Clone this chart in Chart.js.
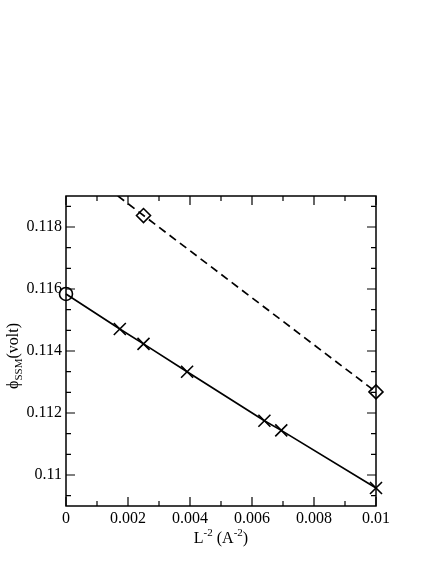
<!DOCTYPE html>
<html>
<head>
<meta charset="utf-8">
<script src="https://cdn.jsdelivr.net/npm/chart.js@4"></script>
<style>
  html, body { margin: 0; padding: 0; background: #fff; }
  #wrap { width: 443px; height: 573px; position: relative; }
</style>
</head>
<body>
<div id="wrap"><canvas id="chart"></canvas></div>
<script>
"use strict";

// solid series (circle = extrapolated value at L^-2 = 0)
const solidX = [0, 0.001736, 0.0025, 0.003906, 0.0064, 0.006944, 0.01];
const solidY = [0.11584, 0.11471, 0.11423, 0.11333, 0.11175, 0.11144, 0.10958];

// dashed series: line ends and diamond markers
const dashLineX = [0, 0.01];
const dashLineY = [0.12027, 0.11268];
const diamondX = [0.0025, 0.01];
const diamondY = [0.11837, 0.11268];

// tick labels
const xTicks = [0, 0.002, 0.004, 0.006, 0.008, 0.01];
const yTicks = [0.11, 0.112, 0.114, 0.116, 0.118];

const xMin = 0, xMax = 0.01, xMinor = 0.001;
const yMin = 0.109, yMax = 0.119, yStep = 0.002, yMinorPerMajor = 3;

const FONT = "'Liberation Serif', 'Times New Roman', serif";

function pts(xs, ys) {
  return xs.map((x, i) => ({ x: x, y: ys[i] }));
}

function fmt(v) {
  return String(Number(v.toFixed(6)));
}

function drawParts(ctx, parts, x0, y0) {
  // parts: [text, size, baseline shift]
  let total = 0;
  parts.forEach((p) => {
    ctx.font = p[1] + "px " + FONT;
    total += ctx.measureText(p[0]).width;
  });
  let x = x0 - total / 2;
  parts.forEach((p) => {
    ctx.font = p[1] + "px " + FONT;
    ctx.fillText(p[0], x, y0 + p[2]);
    x += ctx.measureText(p[0]).width;
  });
}

const framePlugin = {
  id: "frame",
  beforeDatasetsDraw(chart) {
    const { ctx, chartArea: a, scales } = chart;
    const xs = scales.x;
    const ys = scales.y;
    ctx.save();
    ctx.strokeStyle = "#000";
    ctx.lineWidth = 1.5;
    ctx.strokeRect(a.left, a.top, a.right - a.left, a.bottom - a.top);

    ctx.beginPath();
    const nx = Math.round((xMax - xMin) / xMinor);
    for (let i = 0; i <= nx; i++) {
      const px = xs.getPixelForValue(xMin + i * xMinor);
      const len = i % 2 === 0 ? 9 : 5;
      ctx.moveTo(px, a.bottom);
      ctx.lineTo(px, a.bottom - len);
      ctx.moveTo(px, a.top);
      ctx.lineTo(px, a.top + len);
    }
    const yMinorStep = yStep / yMinorPerMajor;
    for (let k = -1; k <= 13; k++) {
      const v = yTicks[0] + k * yMinorStep;
      if (v < yMin || v > yMax) continue;
      const py = ys.getPixelForValue(v);
      const len = k % yMinorPerMajor === 0 ? 9 : 5;
      ctx.moveTo(a.left, py);
      ctx.lineTo(a.left + len, py);
      ctx.moveTo(a.right, py);
      ctx.lineTo(a.right - len, py);
    }
    ctx.lineWidth = 1.2;
    ctx.stroke();
    ctx.restore();
  },
  afterDraw(chart) {
    const { ctx, chartArea: a } = chart;
    ctx.save();
    ctx.fillStyle = "#000";
    ctx.textBaseline = "alphabetic";
    ctx.textAlign = "left";
    // x axis title
    drawParts(ctx, [
      ["L", 16, 0], ["-2", 11, -7], [" (A", 16, 0], ["-2", 11, -7], [")", 16, 0],
    ], (a.left + a.right) / 2, 543);
    // y axis title
    ctx.translate(18, 356);
    ctx.rotate(-Math.PI / 2);
    drawParts(ctx, [
      ["\u03d5", 16, 0], ["SSM", 11, 4], ["(volt)", 16, 0],
    ], 0, 0);
    ctx.restore();
  },
};

const ctx = document.getElementById("chart");

new Chart(ctx, {
  type: "scatter",
  data: {
    datasets: [
      {
        label: "dashed",
        data: pts(dashLineX, dashLineY),
        showLine: true,
        borderColor: "#000",
        borderWidth: 1.7,
        borderDash: [8, 5],
        pointRadius: 0,
        fill: false,
      },
      {
        label: "diamonds",
        data: pts(diamondX, diamondY),
        showLine: false,
        pointStyle: "rectRot",
        pointRadius: 7,
        pointBorderWidth: 1.6,
        pointBorderColor: "#000",
        pointBackgroundColor: "transparent",
        clip: false,
      },
      {
        label: "solid",
        data: pts(solidX, solidY),
        showLine: true,
        borderColor: "#000",
        borderWidth: 1.7,
        pointStyle: solidX.map((x, i) => (i === 0 ? "circle" : "crossRot")),
        pointRadius: solidX.map((x, i) => (i === 0 ? 6.5 : 8.5)),
        pointBorderWidth: 1.6,
        pointBorderColor: "#000",
        pointBackgroundColor: "transparent",
        clip: false,
      },
    ],
  },
  options: {
    responsive: true,
    maintainAspectRatio: false,
    animation: false,
    events: [],
    layout: { padding: { left: 0, top: 196, right: 67, bottom: 0 } },
    plugins: {
      legend: { display: false },
      tooltip: { enabled: false },
    },
    scales: {
      x: {
        type: "linear",
        min: xMin,
        max: xMax,
        grid: { display: false, drawTicks: false },
        border: { display: false },
        afterFit: (s) => { s.height = 67; },
        afterBuildTicks: (s) => { s.ticks = xTicks.map((v) => ({ value: v })); },
        ticks: {
          padding: 3,
          color: "#000",
          font: { family: FONT, size: 16 },
          maxRotation: 0,
          autoSkip: false,
          callback: (v) => fmt(v),
        },
      },
      y: {
        type: "linear",
        min: yMin,
        max: yMax,
        grid: { display: false, drawTicks: false },
        border: { display: false },
        afterFit: (s) => { s.width = 66; },
        afterBuildTicks: (s) => { s.ticks = yTicks.map((v) => ({ value: v })); },
        ticks: {
          padding: 4,
          color: "#000",
          font: { family: FONT, size: 16 },
          autoSkip: false,
          callback: (v) => fmt(v),
        },
      },
    },
  },
  plugins: [framePlugin],
});
</script>
</body>
</html>
